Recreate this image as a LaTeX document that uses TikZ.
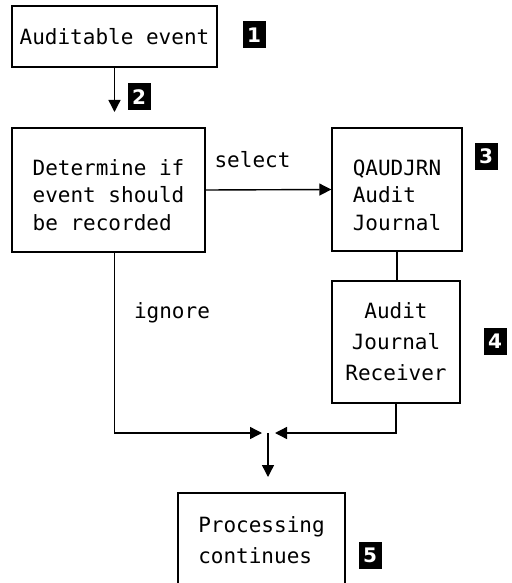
\documentclass[tikz,border=0pt]{standalone}
\usepackage{fontspec}
\setmonofont{DejaVu Sans Mono}
\setsansfont{DejaVu Sans}
\usetikzlibrary{arrows.meta}

\begin{document}
\begin{tikzpicture}[x=1pt,y=-1pt,
  mono/.style={font=\ttfamily\fontsize{21}{27.5}\selectfont},
  box/.style={draw, line width=1.4pt, inner sep=0pt, mono},
  flow/.style={line width=1.4pt, -{Triangle[length=12pt,width=12pt]}},
  link/.style={line width=1.4pt},
  tag/.style={fill=black, text=white, minimum width=23pt, minimum height=27pt,
    inner sep=0pt, font=\sffamily\bfseries\fontsize{20}{20}\selectfont},
  lbl/.style={mono, inner sep=0pt, anchor=base}]
\useasboundingbox (0,0) rectangle (511,583);
\clip (0,0) rectangle (511,583);

% boxes (multi-line text: height measured above the last baseline)
\node[box, minimum width=205pt, minimum height=61pt]
  (event) at (114.5,36.5) {Auditable event};
\node[box, align=left, minimum width=193pt, minimum height=124pt,
  text height=80pt, text depth=0pt]
  (decide) at (108.5,190) {Determine if\\event should\\be recorded};
\node[box, align=left, minimum width=130pt, minimum height=123pt,
  text height=81pt, text depth=0pt]
  (journal) at (397,189.5) {QAUDJRN\\Audit\\Journal};
\node[box, align=center, font=\ttfamily\fontsize{21}{31}\selectfont,
  minimum width=128pt, minimum height=122pt, text height=76pt, text depth=0pt]
  (receiver) at (396,342) {Audit\\Journal\\Receiver};
\node[box, align=left, font=\ttfamily\fontsize{21}{31}\selectfont,
  minimum width=167pt, minimum height=104pt, text height=36pt, text depth=0pt]
  (continue) at (261.5,545) {Processing\\continues};

% numbered tags
\node[tag] (t1) at (254,35) {1};
\node[tag] (t2) at (139,97) {2};
\node[tag] (t3) at (486,156) {3};
\node[tag] (t4) at (495,341) {4};
\node[tag] (t5) at (370,555) {5};

% labels
\node[lbl] (sel) at (252.5,167) {select};
\node[lbl] (ign) at (172,318) {ignore};

% connection points
\coordinate (intoDecide) at (114.5,112);
\coordinate (merge) at (268,433);
\coordinate (mergeL) at (262,433);
\coordinate (mergeR) at (275,433);
\coordinate (down) at (268,477);

% connectors
\draw[flow] (event.south) -- (intoDecide);
\draw[flow] (decide.east) -- (journal.west);
\draw[link] (journal.south) -- (journal.south |- receiver.north);
\draw[flow] (intoDecide |- decide.south) -- (intoDecide |- merge) -- (mergeL);
\draw[flow] (receiver.south) -- (receiver.south |- merge) -- (mergeR);
\draw[flow] (merge) -- (down);
\end{tikzpicture}
\end{document}
